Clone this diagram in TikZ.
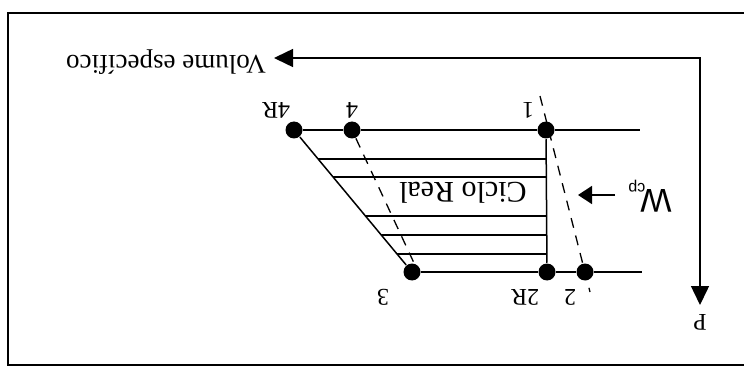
\documentclass[tikz,border=0pt]{standalone}
\usepackage{fontspec}
\setmainfont{Liberation Serif}
\newfontfamily\wfont{Liberation Sans}
\usetikzlibrary{arrows.meta,positioning,calc}

\begin{document}
\begin{tikzpicture}[x=1pt, y=-1pt, line width=1.5pt,
    >={Triangle[length=19pt, width=18pt]},
    dot/.style={circle, fill=black, inner sep=0pt, minimum size=17pt},
    lbl/.style={rotate=180, inner sep=0pt, font=\fontsize{24}{28}\selectfont},
    dashline/.style={dashed, dash pattern=on 10pt off 8pt, line width=1.3pt}]
  \useasboundingbox (0,0) rectangle (744,374);

  % frame, open on the right
  \draw[line width=2pt] (744,13) -- (8,13) -- (8,365) -- (744,365);

  % axes
  \coordinate (corner) at (700,58);
  \coordinate (vend) at (274,58);
  \coordinate (pend) at (700,305);
  \draw[<->] (vend) -- (corner) -- (pend);
  \node[lbl, font=\fontsize{27}{30}\selectfont] (vol) at (166,62) {Volume específico};
  \node[lbl] (plbl) at (700,322) {P};

  % state points
  \node[dot] (p4R) at (294,130) {};
  \node[dot] (p4)  at (352,130) {};
  \node[dot] (p1)  at (546,130) {};
  \node[dot] (p3)  at (412,272) {};
  \node[dot] (p2R) at (547,272) {};
  \node[dot] (p2)  at (585,272) {};
  \coordinate (top) at (640,130);
  \coordinate (bot) at (642,272);

  % real cycle
  \draw (p4R) -- (p4) -- (p1) -- (top);
  \draw (p3) -- (p2R) -- (p2) -- (bot);
  \draw (p1) -- (p2R);
  \draw (p4R) -- (p3);
  \foreach \t in {0.204,0.331,0.606,0.739,0.873} {
    \coordinate (h) at ($(p4R)!\t!(p3)$);
    \draw (h) -- (h -| p1);
  }

  % ideal cycle
  \coordinate (d4) at (414,263);
  \coordinate (d2a) at (540,96);
  \coordinate (d2b) at (590,292);
  \draw[dashline] (p4) -- (d4);
  \draw[dashline] (d2a) -- (d2b);

  % labels
  \node[lbl] (l4R) at (276,110) {4R};
  \node[lbl] (l4)  at (352,110) {4};
  \node[lbl] (l1)  at (528,110) {1};
  \node[lbl] (l3)  at (383,297) {3};
  \node[lbl] (l2R) at (525,297) {2R};
  \node[lbl] (l2)  at (570,297) {2};
  \node[lbl, font=\fontsize{30}{34}\selectfont] (cyc) at (463,193) {Ciclo Real};

  % compressor work
  \node[lbl, font=\wfont\fontsize{33}{36}\selectfont] (wcp) at (650,196)
    {W\kern-5pt\raisebox{-0.35ex}{\fontsize{16}{18}\selectfont cp}};
  \coordinate (wtip) at (578,195);
  \draw[-{Triangle[length=14pt, width=18pt]}] (615,195) -- (wtip);
\end{tikzpicture}
\end{document}
